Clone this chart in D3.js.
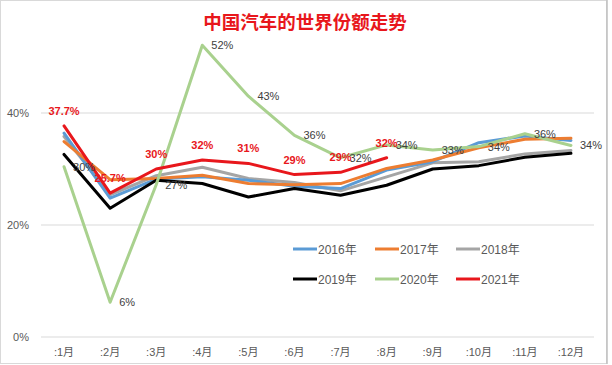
<!DOCTYPE html>
<html><head><meta charset="utf-8">
<script src="https://cdn.jsdelivr.net/npm/d3@7/dist/d3.min.js"></script>
<style>
html,body{margin:0;padding:0;background:#fff;}
svg{display:block;font-family:"Liberation Sans","Noto Sans CJK SC",sans-serif;}
</style></head>
<body><svg id="c" width="612" height="365"></svg>
<script>
const months = [":1月",":2月",":3月",":4月",":5月",":6月",":7月",":8月",":9月",":10月",":11月",":12月"];
const yTicks = [0, 20, 40];
const v2016 = [36.4, 24.8, 28.2, 28.6, 28.0, 26.9, 26.5, 29.8, 31.3, 34.7, 35.9, 35.1];
const v2017 = [34.9, 28.1, 28.3, 28.9, 27.4, 27.2, 27.4, 30.1, 31.6, 33.8, 35.3, 35.5];
const v2018 = [35.8, 25.4, 28.8, 30.3, 28.3, 27.6, 26.1, 28.6, 31.1, 31.3, 32.7, 33.3];
const v2019 = [32.6, 23.0, 28.0, 27.4, 25.0, 26.5, 25.3, 27.1, 30.0, 30.6, 32.1, 32.8];
const v2020 = [30.4, 6.2, 27.2, 52.1, 43.0, 36.0, 32.0, 34.3, 33.4, 34.0, 36.3, 34.2];
const v2021 = [37.7, 25.7, 30.0, 31.6, 31.0, 29.0, 29.4, 32.0];
const seriesNames = ["2016年","2017年","2018年","2019年","2020年","2021年"];
const title = "中国汽车的世界份额走势";

const colors = ["#5b9bd5","#ed7d31","#a5a5a5","#000000","#a9d18e","#e8171c"];
const series = [v2016, v2017, v2018, v2019, v2020, v2021].map((v,i)=>({name:seriesNames[i], values:v, color:colors[i]}));

const svg = d3.select("#c");
// frame
svg.append("rect").attr("x",0.5).attr("y",0.5).attr("width",606).attr("height",363)
  .attr("fill","#fff").attr("stroke","#d9d9d9");
svg.append("line").attr("x1",607).attr("x2",607).attr("y1",0).attr("y2",364).attr("stroke","#bfbfbf").attr("stroke-width",1.5);

const x = d3.scaleBand().domain(months).range([41, 594]);
const xc = m => x(m) + x.bandwidth()/2;
const y = d3.scaleLinear().domain([0, 60]).range([337, 1]);

// gridlines
svg.append("g").selectAll("line").data(yTicks).join("line")
  .attr("x1",41).attr("x2",594).attr("y1",d=>y(d)).attr("y2",d=>y(d))
  .attr("stroke","#d9d9d9").attr("stroke-width",1);

// y axis labels
const yAxis = d3.axisLeft(y).tickValues(yTicks).tickFormat(d=>d+"%").tickSize(0).tickPadding(0);
const gy = svg.append("g").attr("transform","translate(29,0)").call(yAxis);
gy.select(".domain").remove();
gy.selectAll("text").attr("font-size",11).attr("fill","#595959").attr("font-family","Liberation Sans, sans-serif");

// x axis labels
const xAxis = d3.axisBottom(x).tickSize(0).tickPadding(0);
const gx = svg.append("g").attr("transform","translate(0,348)").call(xAxis);
gx.select(".domain").remove();
gx.selectAll("text").attr("font-size",11).attr("fill","#595959").attr("font-family","Liberation Sans, Noto Sans CJK SC, sans-serif");

// lines
const line = d3.line().x((d,i)=>xc(months[i])).y(d=>y(d));
const order = [2,0,1,3,4,5];
svg.append("g").selectAll("path").data(order.map(i=>series[i])).join("path")
  .attr("d", d=>line(d.values)).attr("fill","none").attr("stroke",d=>d.color)
  .attr("stroke-width",3).attr("stroke-linejoin","round").attr("stroke-linecap","round");

// green labels (2020)
svg.append("g").selectAll("text").data(v2020).join("text")
  .attr("x",(d,i)=>xc(months[i])+9).attr("y",(d,i)=>y(d)+4)
  .attr("font-size",11).attr("fill","#404040")
  .text(d=>d3.format(".0f")(d)+"%");

// red labels (2021)
svg.append("g").selectAll("text").data(v2021).join("text")
  .attr("x",(d,i)=>xc(months[i])).attr("y",(d,i)=>y(d)-11)
  .attr("text-anchor","middle").attr("font-size",11).attr("font-weight","bold").attr("fill","#e8171c")
  .text((d,i)=>(i<2 ? d3.format(".1f")(d) : d3.format(".0f")(d))+"%");

// title
svg.append("text").attr("x",305).attr("y",29).attr("text-anchor","middle")
  .attr("font-family","Noto Sans CJK SC, sans-serif").attr("font-size",18.5).attr("font-weight","bold")
  .attr("fill","#e8171c").text(title);

// legend
const legX = [293, 375, 456];
const legY = [249, 279];
const lg = svg.append("g").selectAll("g").data(series).join("g")
  .attr("transform",(d,i)=>`translate(${legX[i%3]},${legY[Math.floor(i/3)]})`);
lg.append("line").attr("x1",0).attr("x2",24).attr("y1",0).attr("y2",0)
  .attr("stroke",d=>d.color).attr("stroke-width",3);
lg.append("text").attr("x",25).attr("y",4.5).attr("font-size",12).attr("fill","#595959")
  .attr("font-family","Liberation Sans, Noto Sans CJK SC, sans-serif").text(d=>d.name);
</script></body></html>
